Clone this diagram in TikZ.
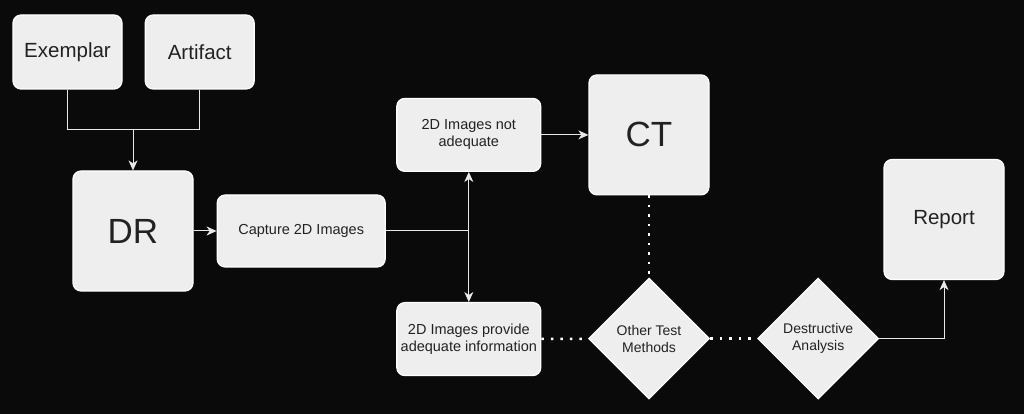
\documentclass[tikz,border=0pt]{standalone}
\usepackage{fontspec}
\setmainfont{Liberation Sans}
\usetikzlibrary{shapes.geometric,arrows.meta,positioning}
\definecolor{bgcol}{RGB}{10,10,10}
\definecolor{boxfill}{RGB}{238,238,238}
\definecolor{boxtext}{RGB}{34,34,34}
\definecolor{linecol}{RGB}{232,232,232}
\tikzstyle{block}=[draw=white, fill=boxfill, text=boxtext, rounded corners=8pt, line width=1.2pt, inner sep=0pt, align=center]
\tikzstyle{decide}=[diamond, aspect=1, draw=white, fill=boxfill, text=boxtext, line width=1.2pt, inner sep=0pt, minimum size=121pt, align=center, font=\fontsize{14}{17}\selectfont]
\tikzstyle{arrow}=[line width=1pt, draw=linecol, -{Stealth[length=10pt,width=9pt,inset=3pt]}]
\tikzstyle{link}=[line width=1pt, draw=linecol]
\tikzstyle{dots}=[draw=white, line width=2.5pt, dash pattern=on 2.5pt off 7pt]
\tikzstyle{big}=[font=\fontsize{35}{42}\selectfont]
\tikzstyle{mid}=[font=\fontsize{20.5}{24}\selectfont]
\tikzstyle{small}=[font=\fontsize{14.5}{17}\selectfont]

\begin{document}
\begin{tikzpicture}[x=1pt,y=1pt,node distance=1cm,auto]
\fill[bgcol] (0,0) rectangle (1024,414);
\useasboundingbox (0,0) rectangle (1024,414);
\node (exemplar) [block,mid,minimum width=109pt,minimum height=74pt] at (67.5,362) {Exemplar};
\node (artifact) [block,mid,minimum width=109pt,minimum height=74pt,right=22pt of exemplar] {Artifact};
\node (dr) [block,big,minimum size=120pt] at (133,183) {DR};
\node (join) [above=41pt of dr,coordinate]{};
\node (capture) [block,small,minimum width=168pt,minimum height=72pt,right=23pt of dr] {Capture 2D Images};
\node (split) [right=83pt of capture,coordinate]{};
\node (notadq) [block,small,minimum width=144pt,minimum height=73pt,above=59pt of split] {2D Images not\\adequate};
\node (adq) [block,small,minimum width=144pt,minimum height=73pt,below=71pt of split] {2D Images provide\\adequate information};
\node (ct) [block,big,minimum size=120pt,right=47pt of notadq] {CT};
\node (other) [decide,below=82pt of ct] {Other Test\\Methods};
\node (destr) [decide,right=47pt of other] {Destructive\\Analysis};
\node (report) [block,mid,minimum size=120pt] at (944,194.5) {Report};
\draw[link] (exemplar) |- (join);
\draw[link] (artifact) |- (join);
\draw[link] (capture) -- (split);
\draw[arrow] (join) -- (dr);
\draw[arrow] (dr) -- (capture);
\draw[arrow] (split) -- (notadq);
\draw[arrow] (split) -- (adq);
\draw[arrow] (notadq) -- (ct);
\draw[arrow] (destr) -| (report);
\path[dots]
	(ct) edge (other)
	(adq) edge (other)
	(other) edge (destr);
\end{tikzpicture}
\end{document}
